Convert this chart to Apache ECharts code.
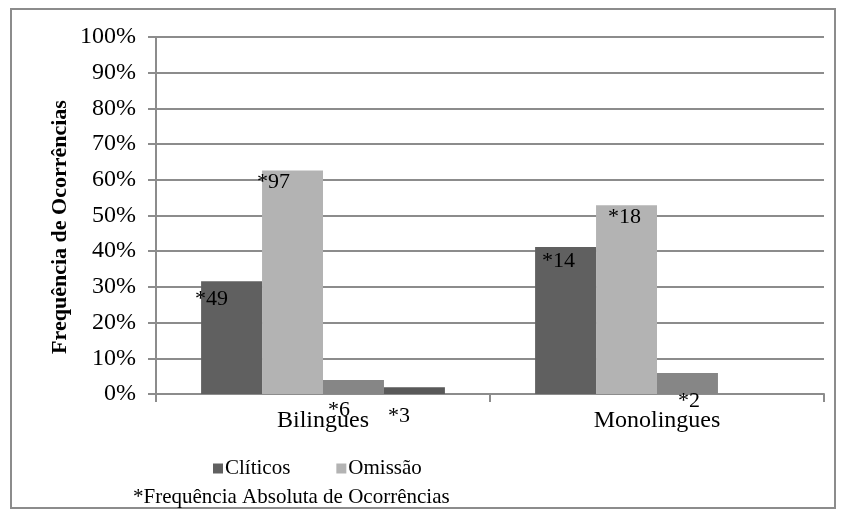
<!DOCTYPE html>
<html>
<head>
<meta charset="utf-8">
<script src="https://cdn.jsdelivr.net/npm/echarts@6/dist/echarts.min.js"></script>
<style>
  html, body { margin: 0; padding: 0; background: #fff; }
  #chart { width: 843px; height: 510px; }
</style>
</head>
<body>
<div id="chart"></div>
<script>
// Categories and values (percent of occurrences per group)
const categories = ['Bilingues', 'Monolingues'];
const cliticos = [31.6, 41.2];
const omissao = [62.6, 52.9];
const serie3 = [3.9, 5.9];
const serie4 = [1.9, 0];
// Absolute counts shown as "*n" labels
const cliticosCount = [49, 14];
const omissaoCount = [97, 18];
const serie3Count = [6, 2];
const serie4Count = [3, null];
const yTicks = [0, 10, 20, 30, 40, 50, 60, 70, 80, 90, 100];

const FONT = '"Liberation Serif", "Times New Roman", serif';
const GRID_COLOR = '#8c8c8c';

// Per-bar label offsets, relative to the bar's top-left corner
const labelPos = {
  cliticos: [[-6, 7], [7, 3]],
  omissao: [[-5, 1], [12, 1]],
  serie3: [[5, 19], [21, 17]],
  serie4: [[4, 18], [0, 0]]
};

function makeData(values, counts, positions) {
  return values.map((v, i) => ({
    value: v,
    label: counts[i] == null ? { show: false } : {
      show: true,
      position: positions[i],
      formatter: '*' + counts[i],
      color: '#000',
      fontFamily: FONT,
      fontSize: 22
    }
  }));
}

const chart = echarts.init(document.getElementById('chart'), null, { renderer: 'canvas' });

chart.setOption({
  animation: false,
  backgroundColor: '#fff',
  grid: { left: 156, right: 19, top: 37, bottom: 116, containLabel: false },
  legend: {
    data: ['Clíticos', 'Omissão'],
    left: 208,
    top: 453,
    icon: 'rect',
    itemWidth: 10,
    itemHeight: 10,
    itemGap: 46,
    textStyle: { fontFamily: FONT, fontSize: 21, color: '#000', padding: [0, 0, 0, -3] }
  },
  xAxis: {
    type: 'category',
    data: categories,
    axisLine: { lineStyle: { color: GRID_COLOR, width: 2 } },
    axisTick: { show: true, length: 8, lineStyle: { color: GRID_COLOR, width: 2 } },
    axisLabel: { fontFamily: FONT, fontSize: 24, color: '#000', margin: 15 }
  },
  yAxis: {
    type: 'value',
    min: 0,
    max: 100,
    interval: 10,
    axisLine: { show: true, lineStyle: { color: GRID_COLOR, width: 2 } },
    axisTick: { show: true, length: 8, lineStyle: { color: GRID_COLOR, width: 2 } },
    axisLabel: {
      fontFamily: FONT, fontSize: 24, color: '#000', margin: 20,
      formatter: v => yTicks.includes(v) ? v + '%' : ''
    },
    splitLine: { lineStyle: { color: GRID_COLOR, width: 2 } }
  },
  series: [
    {
      name: 'Clíticos', type: 'bar', barGap: '0%', barCategoryGap: '27%',
      itemStyle: { color: '#606060' },
      data: makeData(cliticos, cliticosCount, labelPos.cliticos)
    },
    {
      name: 'Omissão', type: 'bar',
      itemStyle: { color: '#b3b3b3' },
      data: makeData(omissao, omissaoCount, labelPos.omissao)
    },
    {
      name: 'serie3', type: 'bar',
      itemStyle: { color: '#868686' },
      data: makeData(serie3, serie3Count, labelPos.serie3)
    },
    {
      name: 'serie4', type: 'bar',
      itemStyle: { color: '#595959' },
      data: makeData(serie4, serie4Count, labelPos.serie4)
    }
  ],
  graphic: [
    {
      type: 'rect',
      shape: { x: 11, y: 9, width: 824, height: 499 },
      style: { fill: 'none', stroke: '#8c8c8c', lineWidth: 2 },
      silent: true
    },
    {
      // Vertical axis title
      type: 'text',
      x: 60,
      y: 227,
      rotation: Math.PI / 2,
      style: {
        text: 'Frequência de Ocorrências',
        font: 'bold 22px ' + FONT,
        fill: '#000',
        align: 'center',
        verticalAlign: 'middle'
      }
    },
    {
      type: 'text',
      left: 133,
      top: 487,
      style: {
        text: '*Frequência Absoluta de Ocorrências',
        font: '21px ' + FONT,
        fill: '#000'
      }
    }
  ]
});
</script>
</body>
</html>
